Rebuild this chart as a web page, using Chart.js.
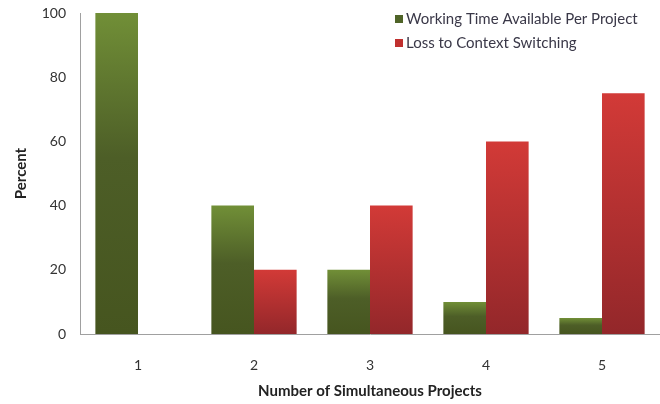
<!DOCTYPE html>
<html>
<head>
<meta charset="utf-8">
<script src="https://cdn.jsdelivr.net/npm/chart.js@4.4.0/dist/chart.umd.min.js"></script>
<style>
    body { margin: 0; background: #fff; }
    canvas { display: block; }
</style>
</head>
<body>
<canvas id="projectsChart" width="660" height="404"></canvas>
<script>
const categories = ['1', '2', '3', '4', '5'];
const workingTime = [100, 40, 20, 10, 5];
const contextLoss = [0, 20, 40, 60, 75];
const yTicks = [0, 20, 40, 60, 80, 100];

const FONT = 'Lato, "Open Sans", sans-serif';

// per-bar vertical gradient, from the bar top down to the baseline
function barGradient(stops) {
    return function(context) {
        const chart = context.chart;
        const area = chart.chartArea;
        if (!area || context.dataIndex === undefined) return stops[stops.length - 1][1];
        const value = context.dataset.data[context.dataIndex];
        const y = chart.scales.y;
        const top = y.getPixelForValue(value);
        const base = y.getPixelForValue(0);
        if (base - top < 1) return stops[stops.length - 1][1];
        const g = chart.ctx.createLinearGradient(0, top, 0, base);
        stops.forEach(s => g.addColorStop(s[0], s[1]));
        return g;
    };
}

// legend stacked in the top right corner
const cornerLegend = {
    id: 'cornerLegend',
    afterDraw(chart) {
        const ctx = chart.ctx;
        ctx.save();
        ctx.font = '15px ' + FONT;
        ctx.textBaseline = 'middle';
        chart.data.datasets.forEach((ds, i) => {
            const y = 19 + i * 24;
            ctx.fillStyle = ds.legendColor;
            ctx.fillRect(395, y - 4, 8, 8);
            ctx.fillStyle = '#3a3848';
            ctx.fillText(ds.label, 406, y);
        });
        ctx.restore();
    }
};

const ctx = document.getElementById('projectsChart').getContext('2d');
new Chart(ctx, {
    type: 'bar',
    data: {
        labels: categories,
        datasets: [
            {
                label: 'Working Time Available Per Project',
                data: workingTime,
                legendColor: '#4f6428',
                backgroundColor: barGradient([[0, '#718f37'], [0.45, '#4d5e27'], [1, '#46551f']]),
                borderWidth: 0
            },
            {
                label: 'Loss to Context Switching',
                data: contextLoss,
                legendColor: '#c0302f',
                backgroundColor: barGradient([[0, '#d23a37'], [1, '#93272a']]),
                borderWidth: 0
            }
        ]
    },
    options: {
        responsive: false,
        animation: false,
        categoryPercentage: 0.735,
        barPercentage: 1,
        layout: {
            padding: { top: 0, right: 0, bottom: 4, left: 8 }
        },
        plugins: {
            legend: { display: false },
            tooltip: { enabled: false }
        },
        scales: {
            x: {
                afterFit: function(scale) { scale.height = 66; },
                grid: { display: false, drawTicks: false },
                border: { color: '#a0a0a0', width: 1 },
                ticks: {
                    color: '#333',
                    font: { family: FONT, size: 14 },
                    padding: 23
                },
                title: {
                    display: true,
                    text: 'Number of Simultaneous Projects',
                    color: '#222',
                    font: { family: FONT, size: 15, weight: 'bold' },
                    padding: { top: 4, bottom: 0 }
                }
            },
            y: {
                min: 0,
                max: 100,
                afterFit: function(scale) {
                    scale.width = 72;
                    scale.paddingTop = 13;
                },
                afterBuildTicks: function(scale) {
                    scale.ticks = yTicks.map(v => ({ value: v }));
                },
                grid: { display: false, drawTicks: false },
                border: { color: '#a0a0a0', width: 1 },
                ticks: {
                    color: '#333',
                    font: { family: FONT, size: 14 },
                    padding: 14
                },
                title: {
                    display: true,
                    text: 'Percent',
                    color: '#222',
                    font: { family: FONT, size: 15, weight: 'bold' },
                    padding: { top: 4, bottom: 4 }
                }
            }
        }
    },
    plugins: [cornerLegend]
});
</script>
</body>
</html>
